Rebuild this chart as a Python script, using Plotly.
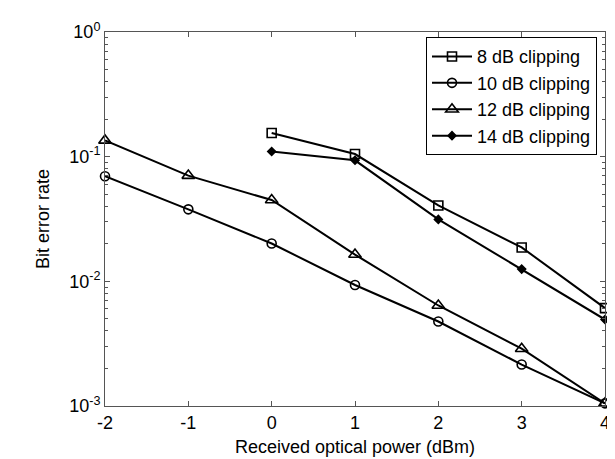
import plotly.graph_objects as go

power_dbm = [-2, -1, 0, 1, 2, 3, 4]
power_dbm_short = [0, 1, 2, 3, 4]

ber_8db = [0.155, 0.105, 0.0406, 0.0187, 0.0061]
ber_10db = [0.0697, 0.0378, 0.0201, 0.00935, 0.00476, 0.00215, 0.00105]
ber_12db = [0.135, 0.0705, 0.0449, 0.0164, 0.0064, 0.00288, 0.00105]
ber_14db = [0.110, 0.0935, 0.0314, 0.01253, 0.00494]

series_names = ["8 dB clipping", "10 dB clipping", "12 dB clipping", "14 dB clipping"]

y_tickvals = [1e-3, 1e-2, 1e-1, 1e0]
y_ticktext = ["10<sup>-3</sup>", "10<sup>-2</sup>", "10<sup>-1</sup>", "10<sup>0</sup>"]
x_tickvals = [-2, -1, 0, 1, 2, 3, 4]
x_ticktext = ["-2", "-1", "0", "1", "2", "3", "4"]

FONT = "Liberation Sans, Arial, Helvetica, sans-serif"

fig = go.Figure()

specs = [
    (power_dbm_short, ber_8db, series_names[0], "square-open", 9),
    (power_dbm, ber_10db, series_names[1], "circle-open", 9),
    (power_dbm, ber_12db, series_names[2], "triangle-up-open", 11),
    (power_dbm_short, ber_14db, series_names[3], "diamond", 6),
]
for xs, ys, name, sym, sz in specs:
    fig.add_trace(go.Scatter(
        x=xs, y=ys, name=name, mode="lines+markers",
        line=dict(color="black", width=2),
        marker=dict(symbol=sym, size=sz, color="black",
                    line=dict(color="black", width=1.6)),
        cliponaxis=False,
    ))

axis_color = "#555555"
fig.update_layout(
    width=615, height=459,
    margin=dict(l=97, r=18, t=22, b=61),
    paper_bgcolor="white", plot_bgcolor="white",
    font=dict(family=FONT, size=18, color="black"),
    showlegend=True,
    legend=dict(
        x=0.984, y=0.986, xanchor="right", yanchor="top",
        bgcolor="white", bordercolor="black", borderwidth=1,
        font=dict(family=FONT, size=18, color="black"),
        tracegroupgap=0, itemwidth=40,
    ),
    xaxis=dict(
        range=[-2, 4], tickvals=x_tickvals, ticktext=x_ticktext,
        ticks="inside", ticklen=5, tickcolor=axis_color,
        showline=True, linecolor=axis_color, linewidth=1, mirror="ticks",
        showgrid=False, zeroline=False,
        title=dict(text="Received optical power (dBm)", standoff=8,
                   font=dict(size=18)),
        tickfont=dict(size=18),
    ),
    yaxis=dict(
        type="log", range=[-3, 0],
        tickvals=y_tickvals, ticktext=y_ticktext,
        ticks="inside", ticklen=5, tickcolor=axis_color,
        minor=dict(ticks="inside", ticklen=3, tickcolor=axis_color, dtick="D1", showgrid=False),
        showline=True, linecolor=axis_color, linewidth=1, mirror="ticks",
        showgrid=False, zeroline=False,
        title=dict(text="Bit error rate", standoff=14, font=dict(size=18)),
        tickfont=dict(size=18),
    ),
)

fig.write_html("out.html")
